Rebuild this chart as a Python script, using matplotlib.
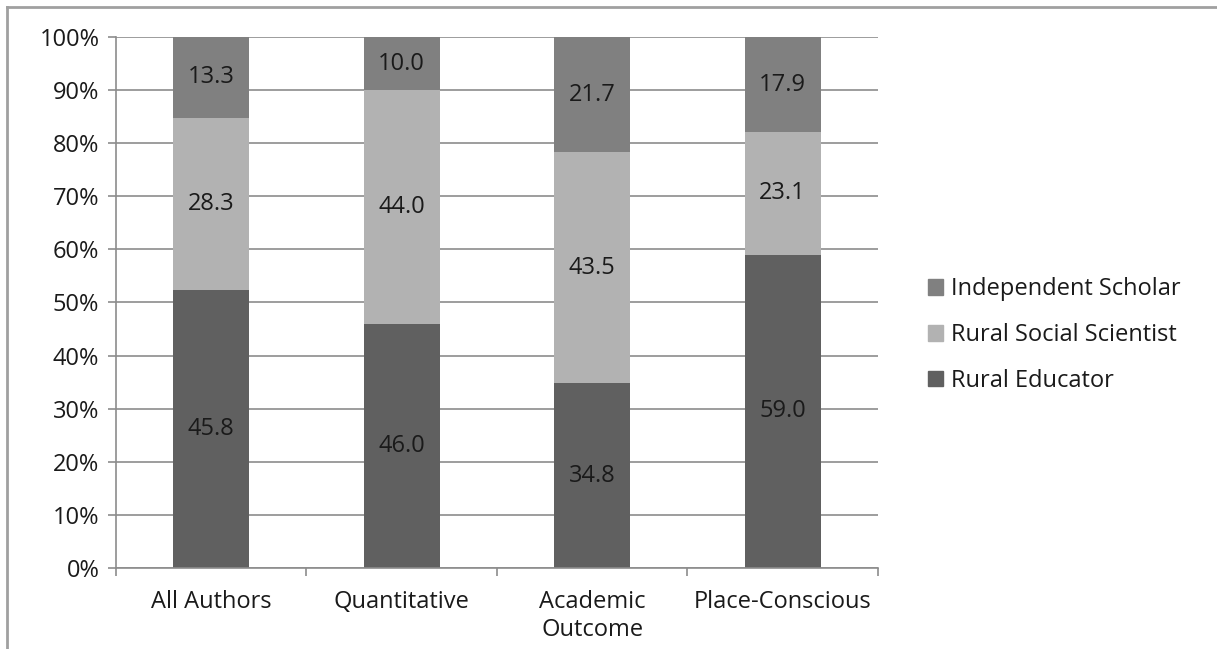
import numpy as np
import matplotlib.pyplot as plt
from matplotlib.lines import Line2D
from matplotlib.patches import Patch

# data (labels show raw values, bars are 100% stacked)
categories = ["All Authors", "Quantitative", "Academic\nOutcome", "Place-Conscious"]
rural_educator = [45.8, 46.0, 34.8, 59.0]
rural_social_scientist = [28.3, 44.0, 43.5, 23.1]
independent_scholar = [13.3, 10.0, 21.7, 17.9]

series = [
    ("Rural Educator", rural_educator, "#606060"),
    ("Rural Social Scientist", rural_social_scientist, "#b2b2b2"),
    ("Independent Scholar", independent_scholar, "#808080"),
]

plt.rcParams['font.family'] = ['Open Sans', 'DejaVu Sans']
FS = 17

fig = plt.figure(figsize=(12.17, 6.49), dpi=100)
ax = fig.add_axes([116 / 1217, 1 - 568 / 649, (878 - 116) / 1217, (568 - 37) / 649])

x = np.arange(len(categories))
totals = np.array(rural_educator) + np.array(rural_social_scientist) + np.array(independent_scholar)

# grid first
ax.set_axisbelow(True)
ax.yaxis.grid(True, color="#8c8c8c", linewidth=1.2)

bottom = np.zeros(len(categories))
for name, vals, col in series:
    vals = np.array(vals)
    pct = vals / totals * 100
    ax.bar(x, pct, 0.40, bottom=bottom, color=col, label=name, zorder=2)
    for xi, b, p, v in zip(x, bottom, pct, vals):
        ax.text(xi, b + p / 2, f"{v:.1f}", ha="center", va="center",
                fontsize=FS, color="#1a1a1a", zorder=3)
    bottom += pct

ax.set_xlim(-0.5, len(categories) - 0.5)
ax.set_ylim(0, 100)
ax.set_yticks(np.arange(0, 101, 10))
ax.set_yticklabels([f"{v}%" for v in range(0, 101, 10)])
ax.set_xticks(x)
ax.set_xticklabels(categories, linespacing=1.2)
ax.set_xticks(np.arange(-0.5, len(categories), 1), minor=True)

for s in ["top", "right"]:
    ax.spines[s].set_visible(False)
for s in ["left", "bottom"]:
    ax.spines[s].set_color("#8c8c8c")
    ax.spines[s].set_linewidth(1.2)

ax.tick_params(axis="y", length=6, width=1.2, color="#8c8c8c", labelsize=FS, pad=6,
               labelcolor="#1a1a1a")
ax.tick_params(axis="x", which="major", length=0, labelsize=FS, pad=16, labelcolor="#1a1a1a")
ax.tick_params(axis="x", which="minor", length=6, width=1.2, color="#8c8c8c")

# legend, reversed order like the original
handles = [Patch(color=c, label=n) for n, _, c in series[::-1]]
fig.legend(handles=handles, loc="center left", bbox_to_anchor=(928 / 1217, 1 - 335 / 649),
           frameon=False, fontsize=FS, handlelength=0.64, handleheight=0.64,
           handletextpad=0.34, labelspacing=0.92, borderpad=0, borderaxespad=0,
           labelcolor="#1a1a1a")

# outer chart border (only top and left show in the crop)
fig.add_artist(Line2D([7 / 1217, 7 / 1217], [0, 1 - 7 / 649], transform=fig.transFigure,
                      color="#a0a0a0", linewidth=2))
fig.add_artist(Line2D([7 / 1217, 1], [1 - 7 / 649, 1 - 7 / 649], transform=fig.transFigure,
                      color="#a0a0a0", linewidth=2))

fig.savefig("out.png", dpi=100)
